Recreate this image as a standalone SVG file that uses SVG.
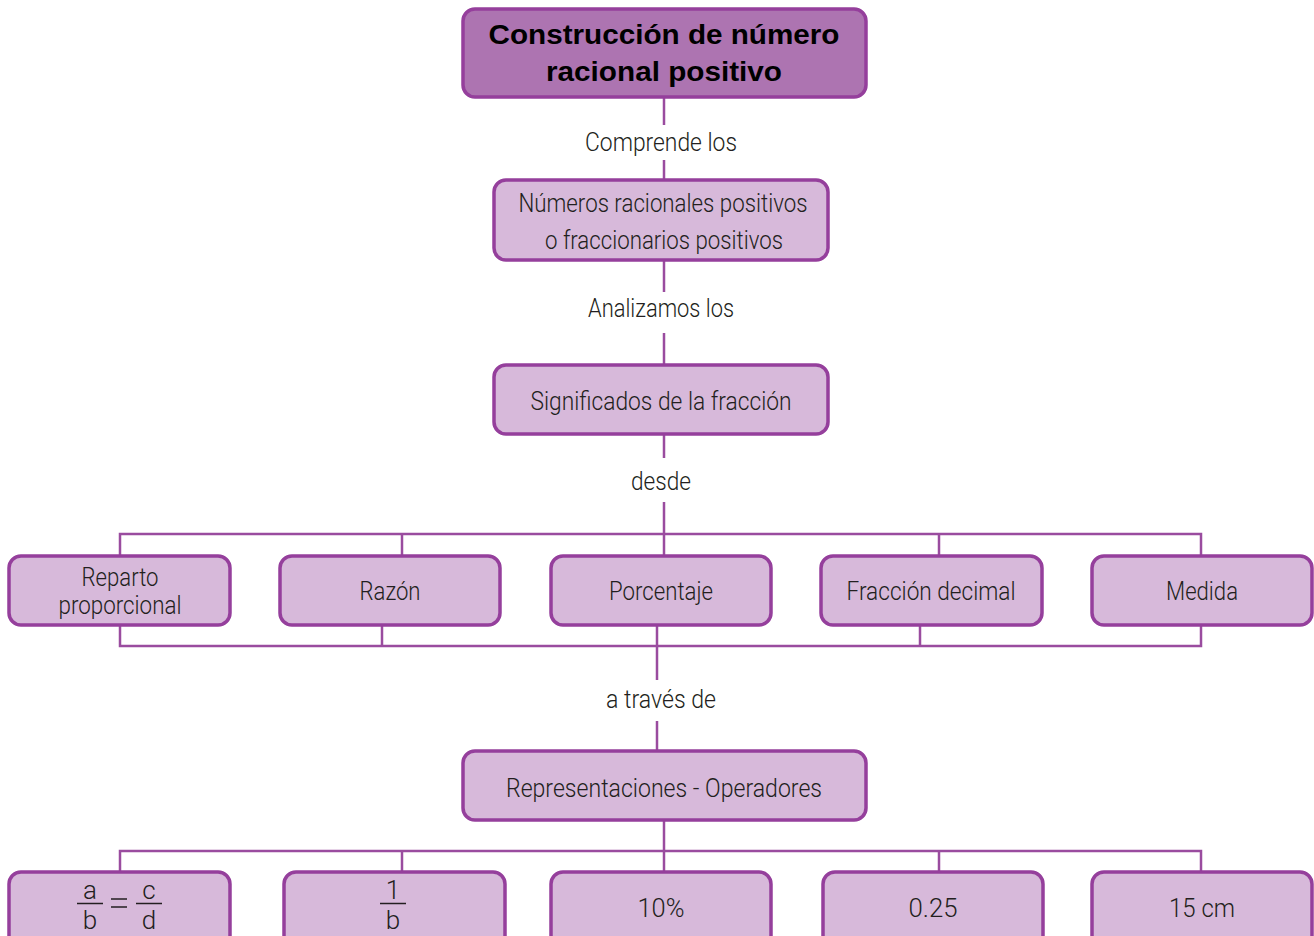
<svg xmlns="http://www.w3.org/2000/svg" width="1314" height="936" viewBox="0 0 1314 936">
<style>
.box{fill:#d7b9da;stroke:#953f9c;stroke-width:3.5}
.top{fill:#ad74b1;stroke:#953f9c;stroke-width:3.5}
.t{font-family:Roboto,"Liberation Sans",sans-serif;font-weight:300;font-size:26px;fill:#231f20;text-anchor:middle}
.tb{font-family:"Liberation Sans",Arial,sans-serif;font-weight:bold;font-size:28px;fill:#000;text-anchor:middle}
.c{fill:none;stroke:#9a4c9f;stroke-width:2.5}
.bar{stroke:#231f20;stroke-width:1.5}
</style>
<rect width="1314" height="936" fill="#fff"/>
<g id="connectors" class="c">
<path d="M664 97V125M664 160V180"/>
<path d="M664 260V292M664 333V365"/>
<path d="M664 434V458M664 502V556"/>
<path d="M120 556V534H1201V556M402 534V556M939 534V556"/>
<path d="M120 625V646H1201V625M382 625V646M920 625V646"/>
<path d="M657 625V680M657 721V751"/>
<path d="M664 820V872"/>
<path d="M120 872V851H1201V872M402 851V872M939 851V872"/>
</g>
<g id="n-title"><rect class="top" x="463" y="9" width="403" height="88" rx="12"/>
<text class="tb" x="664" y="44" textLength="351" lengthAdjust="spacingAndGlyphs">Construcción de número</text>
<text class="tb" x="664" y="81" textLength="236" lengthAdjust="spacingAndGlyphs">racional positivo</text></g>
<g id="l-comprende"><text class="t" x="661" y="151" textLength="152" lengthAdjust="spacingAndGlyphs">Comprende los</text></g>
<g id="n-numeros"><rect class="box" x="494" y="180" width="334" height="80" rx="12"/>
<text class="t" x="663" y="212" textLength="289" lengthAdjust="spacingAndGlyphs">Números racionales positivos</text>
<text class="t" x="664" y="249" textLength="238" lengthAdjust="spacingAndGlyphs">o fraccionarios positivos</text></g>
<g id="l-analizamos"><text class="t" x="661" y="317" textLength="146" lengthAdjust="spacingAndGlyphs">Analizamos los</text></g>
<g id="n-significados"><rect class="box" x="494" y="365" width="334" height="69" rx="12"/>
<text class="t" x="661" y="410" textLength="261" lengthAdjust="spacingAndGlyphs">Significados de la fracción</text></g>
<g id="l-desde"><text class="t" x="661" y="490" textLength="60" lengthAdjust="spacingAndGlyphs">desde</text></g>
<g id="n-reparto"><rect class="box" x="9" y="556" width="221" height="69" rx="12"/>
<text class="t" x="120" y="586" textLength="77" lengthAdjust="spacingAndGlyphs">Reparto</text>
<text class="t" x="120" y="614" textLength="123" lengthAdjust="spacingAndGlyphs">proporcional</text></g>
<g id="n-razon"><rect class="box" x="280" y="556" width="220" height="69" rx="12"/>
<text class="t" x="390" y="600" textLength="61" lengthAdjust="spacingAndGlyphs">Razón</text></g>
<g id="n-porcentaje"><rect class="box" x="551" y="556" width="220" height="69" rx="12"/>
<text class="t" x="661" y="600" textLength="104" lengthAdjust="spacingAndGlyphs">Porcentaje</text></g>
<g id="n-fraccion"><rect class="box" x="821" y="556" width="221" height="69" rx="12"/>
<text class="t" x="931" y="600" textLength="169" lengthAdjust="spacingAndGlyphs">Fracción decimal</text></g>
<g id="n-medida"><rect class="box" x="1092" y="556" width="220" height="69" rx="12"/>
<text class="t" x="1202" y="600" textLength="72" lengthAdjust="spacingAndGlyphs">Medida</text></g>
<g id="l-traves"><text class="t" x="661" y="708" textLength="110" lengthAdjust="spacingAndGlyphs">a través de</text></g>
<g id="n-representaciones"><rect class="box" x="463" y="751" width="403" height="69" rx="12"/>
<text class="t" x="664" y="797" textLength="316" lengthAdjust="spacingAndGlyphs">Representaciones - Operadores</text></g>
<g id="n-proporcion"><rect class="box" x="9" y="872" width="221" height="80" rx="12"/>
<text class="t" x="90" y="899" font-size="24">a</text>
<line class="bar" x1="77" y1="903.5" x2="103" y2="903.5"/>
<text class="t" x="90" y="929" font-size="23">b</text>
<line class="bar" x1="111" y1="899" x2="127" y2="899"/>
<line class="bar" x1="111" y1="907" x2="127" y2="907"/>
<text class="t" x="149" y="899" font-size="24">c</text>
<line class="bar" x1="136" y1="903.5" x2="162" y2="903.5"/>
<text class="t" x="149" y="929" font-size="23">d</text></g>
<g id="n-unidad"><rect class="box" x="284" y="872" width="221" height="80" rx="12"/>
<text class="t" x="393" y="899" font-size="24">1</text>
<line class="bar" x1="380" y1="903.5" x2="406" y2="903.5"/>
<text class="t" x="393" y="929" font-size="23">b</text></g>
<g id="n-10"><rect class="box" x="551" y="872" width="220" height="80" rx="12"/>
<text class="t" x="661" y="917" textLength="47" lengthAdjust="spacingAndGlyphs">10%</text></g>
<g id="n-025"><rect class="box" x="823" y="872" width="220" height="80" rx="12"/>
<text class="t" x="933" y="917" textLength="49" lengthAdjust="spacingAndGlyphs">0.25</text></g>
<g id="n-15"><rect class="box" x="1092" y="872" width="220" height="80" rx="12"/>
<text class="t" x="1202" y="917" textLength="66" lengthAdjust="spacingAndGlyphs">15 cm</text></g>
</svg>
